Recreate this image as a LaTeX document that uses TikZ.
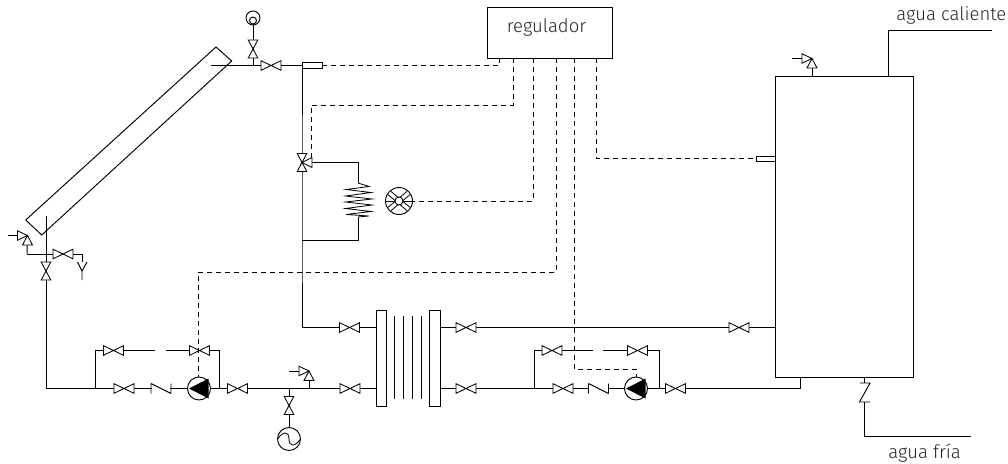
\documentclass[tikz,border=0pt]{standalone}
\usepackage{fontspec}
\setmainfont{Fira Sans}[UprightFont=* Light]
\begin{document}
\begin{tikzpicture}[x=1pt,y=-1pt,line width=0.95pt,
  pipe/.style={draw=black,line join=miter},
  signal/.style={draw=black,line width=0.95pt,dash pattern=on 5pt off 4pt},
  box/.style={draw=black,fill=white,inner sep=0pt,outer sep=0pt,minimum width=#1},
  sensorbox/.style={draw=black,fill=white,inner sep=0pt,outer sep=0pt},
  ring/.style={draw=black,fill=white,circle,inner sep=0pt,outer sep=0pt,minimum size=#1},
  lbl/.style={inner sep=0pt,font=\fontsize{18.5}{21}\selectfont,text=black!85},
  hvalve/.pic={\draw[fill=white,line width=0.85pt] (-10,-4.8)--(10,4.8)--(10,-4.8)--(-10,4.8)--cycle;},
  vvalve/.pic={\draw[fill=white,line width=0.85pt] (-4.8,-9)--(4.8,9)--(-4.8,9)--(4.8,-9)--cycle;},
  safety/.pic={
    \draw[fill=white,line width=0.85pt] (-10,-4.7)--(0,0)--(-10,4.7)--cycle;
    \draw[fill=white,line width=0.85pt] (0,0)--(-5,9.5)--(5,9.5)--cycle;
    \draw (-20,0)--(-10,0);},
  checkv/.pic={\fill[white] (-9.4,-3)rectangle(9.4,3);\draw (-10,-5)--(-10,5) (-10,-5)--(10,5) (10,-5)--(10,5);},
  pumpsym/.pic={
    \fill (-10,0)--(9.5,-10)--(9.5,10)--cycle;},
]
\useasboundingbox (0,0) rectangle (1008,463);
% named points
\coordinate (ct) at (211,65.5);
\coordinate (tee1) at (253,65.5);
\coordinate (v1) at (271,65.5);
\coordinate (j1) at (302,65.5);
\coordinate (v2) at (253,49);
\coordinate (w3) at (302,162.5);
\coordinate (c1) at (358,162.5);
\coordinate (c2) at (358,183);
\coordinate (c3) at (358,217);
\coordinate (c4) at (358,240);
\coordinate (j2) at (302,240);
\coordinate (j3) at (302,327.5);
\coordinate (v3) at (349.5,327.5);
\coordinate (v4) at (466,327.5);
\coordinate (v5) at (739,327.5);
\coordinate (v6) at (350,388.5);
\coordinate (v7) at (466,388.5);
\coordinate (j4) at (534,388.5);
\coordinate (j5) at (534,350.5);
\coordinate (v8) at (552,350.5);
\coordinate (g1) at (593,350.5);
\coordinate (g2) at (603,350.5);
\coordinate (v9) at (637.5,350.5);
\coordinate (j6) at (659,350.5);
\coordinate (j7) at (659,388.5);
\coordinate (v10) at (563,388.5);
\coordinate (k1) at (598.5,388.5);
\coordinate (v11) at (675.5,388.5);
\coordinate (j8) at (800,388.5);
\coordinate (k2a) at (864,383);
\coordinate (k2b) at (864,402);
\coordinate (j9) at (864,436.5);
\coordinate (e2) at (971,436.5);
\coordinate (j10) at (888,30.5);
\coordinate (e1) at (992,30.5);
\coordinate (s3) at (812,58.5);
\coordinate (s3b) at (812,76.5);
\coordinate (lt) at (46,216);
\coordinate (v12) at (46,271);
\coordinate (j12) at (27,254);
\coordinate (s1) at (27.5,235.5);
\coordinate (v13) at (63,254);
\coordinate (y1) at (82,254);
\coordinate (y1b) at (82,262);
\coordinate (y2) at (82,271);
\coordinate (y3) at (82,280);
\coordinate (ya) at (77.5,262);
\coordinate (yb) at (87,262);
\coordinate (j13) at (46,388.5);
\coordinate (j14) at (95,388.5);
\coordinate (j15) at (95,350.5);
\coordinate (v14) at (113.5,350.5);
\coordinate (g3) at (155,350.5);
\coordinate (g4) at (166,350.5);
\coordinate (v15) at (199.5,350.5);
\coordinate (j16) at (219,350.5);
\coordinate (j17) at (219,388.5);
\coordinate (v16) at (124,388.5);
\coordinate (k3) at (161,388.5);
\coordinate (v17) at (237.5,388.5);
\coordinate (j18) at (289,388.5);
\coordinate (v18) at (289,405.5);
\coordinate (s2) at (309,371);
\coordinate (s2b) at (309,388.5);
% collector
\draw[line join=miter] (216,47)--(231.7,61)--(41.7,235)--(25.7,220)--cycle;
% nodes
\node[box=138pt,minimum height=300.5pt,anchor=north west] (tank) at (775,76.5) {};
\node[box=10pt,minimum height=96pt,anchor=north west] (p1) at (376,310) {};
\node[box=11pt,minimum height=96pt,anchor=north west] (p2) at (429,310) {};
\node[ring=14pt] (gauge) at (253,18) {};
\node[ring=7pt] (gaugein) at (253,20.5) {};
\node[ring=27pt] (fan) at (399,201) {};
\node[ring=23pt] (pump1) at (199,388.5) {};
\node[ring=23pt] (pump2) at (636,388.5) {};
\node[ring=23pt] (exp) at (289,439) {};
% pipes
\draw[pipe] (ct)--(j1)--(w3)--(j2)--(j3)--(p1.west |- j3);
\draw[pipe] (gaugein.south)--(tee1);
\draw[pipe] (w3)--(c1)--(c2);
\draw[pipe] (c3)--(c4)--(j2);
\draw[pipe] (p2.east |- v4)--(v5)--(tank.west |- v5);
\draw[pipe] (p2.east |- v7)--(pump2.west);
\draw[pipe] (pump2.east)--(j8)--(j8 |- tank.south);
\draw[pipe] (j4)--(j5)--(g1);
\draw[pipe] (g2)--(j6)--(j7);
\draw[pipe] (tank.north -| j10)--(j10)--(e1);
\draw[pipe] (s3)--(s3b);
\draw[pipe] (k2a |- tank.south)--(k2a) (k2b)--(j9)--(e2);
\draw[pipe] (lt)--(j13)--(pump1.west);
\draw[pipe] (j14)--(j15)--(g3);
\draw[pipe] (g4)--(j16)--(j17);
\draw[pipe] (pump1.east)--(p1.west |- v6);
\draw[pipe] (j12)--(s1);
\draw[pipe] (j12)--(y1)--(y1b);
\draw[pipe] (ya)--(y2)--(yb) (y2)--(y3);
\draw[pipe] (j18)--(exp.north);
\draw[pipe] (s2)--(s2b);
% heat exchanger plates
\foreach \px/\pn in {394/a,403/b,412.7/c,421/d}{
  \coordinate (h\pn t) at (\px,316);
  \coordinate (h\pn b) at (\px,399);
  \draw (h\pn t)--(h\pn b);}
% coil
\draw[line width=0.8pt,line join=miter] (c2)--(369,186.5)--(346,189.5)--(371,192.5)--(345.5,196)--(372,199)--(345.5,202)--(372,205)--(345.5,208.5)--(371,211.5)--(346,214.5)--(369,216)--(c3);
% fan
\foreach \a in {40,140,220,320}{
  \begin{scope}[shift={(fan.center)},rotate=\a]
  \draw[line width=0.8pt] (3.5,-2.2)--(12.5,-2.2) (3.5,2.2)--(12.5,2.2);
  \end{scope}}
\draw[line width=0.8pt] (fan.west)--(fan.east);
\node[ring=8pt] (fanin) at (fan.center) {};
% pump triangles
\pic at (pump1) {pumpsym};
\pic at (pump2) {pumpsym};
% sine
\draw[line width=0.85pt] (exp.west) .. controls (283,431) and (289,431) .. (289,439) .. controls (289,447) and (295,447) .. (exp.east);
% valves
\foreach \c in {v1,v3,v4,v5,v6,v7,v8,v9,v10,v11,v13,v14,v15,v16,v17} \pic at (\c) {hvalve};
\foreach \c in {v2,v12,v18} \pic at (\c) {vvalve};
\path (w3) pic {vvalve};
\draw[fill=white,line width=0.85pt] (w3)--(312,157.5)--(312,167.5)--cycle;
\pic at (s3) {safety};
\pic at (s1) {safety};
\pic at (s2) {safety};
\pic at (k1) {checkv};
\pic at (k3) {checkv};
\draw (860,383)--(870,383)--(859.5,402)--(870,402);
% sensors
\node[sensorbox,minimum width=20pt,minimum height=6pt,anchor=west] (sn1) at (302,65.5) {};
\node[sensorbox,minimum width=19pt,minimum height=5pt,anchor=east] (sn2) at (775,158.5) {};
% regulator
\node[box=125pt,minimum height=51pt,anchor=north west] (reg) at (487,7) {};
\node[lbl] (regt) at (546.5,28) {regulador};
\node[lbl,anchor=west] (t1) at (896,15) {agua caliente};
\node[lbl,anchor=west] (t2) at (888,453) {agua fría};
% signals
\coordinate (d1) at (499,65.5);
\coordinate (d2) at (513,105);
\coordinate (d2a) at (311,105);
\coordinate (d2b) at (311,158);
\coordinate (d3) at (533,201);
\coordinate (d4) at (556,272);
\coordinate (d4a) at (198,272);
\coordinate (d5) at (574,369);
\coordinate (d5a) at (636,369);
\coordinate (d6) at (596,158.5);
\draw[signal] (d1 |- reg.south)--(d1)--(sn1.east);
\draw[signal] (d2 |- reg.south)--(d2)--(d2a)--(d2b);
\draw[signal] (d3 |- reg.south)--(d3)--(fan.east);
\draw[signal] (d4 |- reg.south)--(d4)--(d4a)--(pump1.north -| d4a);
\draw[signal] (d5 |- reg.south)--(d5)--(d5a)--(pump2.north);
\draw[signal] (d6 |- reg.south)--(d6)--(sn2.west);
\end{tikzpicture}
\end{document}
